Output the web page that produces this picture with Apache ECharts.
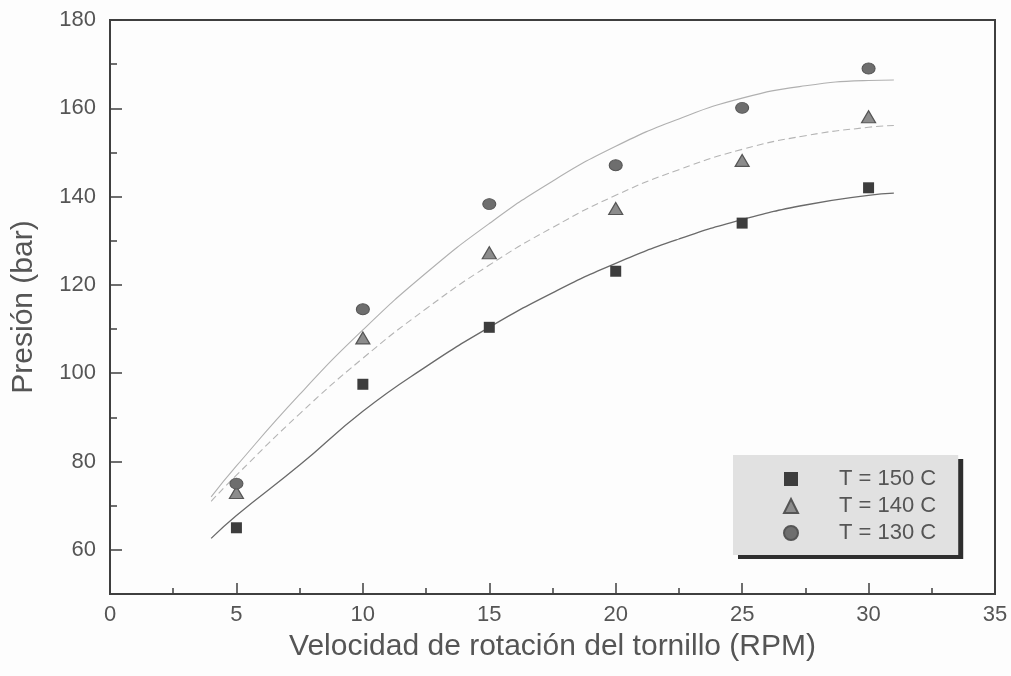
<!DOCTYPE html>
<html>
<head>
<meta charset="utf-8">
<script src="https://cdn.jsdelivr.net/npm/echarts@6/dist/echarts.min.js"></script>
<style>
html,body{margin:0;padding:0;background:#fdfdfd;}
#chart{width:1011px;height:676px;}
</style>
</head>
<body>
<div id="chart"></div>
<script>
// ---- data ----
const rpm = [5, 10, 15, 20, 25, 30];
const p150 = [65, 97.5, 110.4, 123.1, 134.0, 142.0];
const p140 = [73, 108, 127.3, 137.3, 148.2, 158.1];
const p130 = [75, 114.5, 138.3, 147.1, 160.1, 169.0];

const fitX = [4, 5, 7.5, 10, 12.5, 15, 17.5, 20, 22.5, 25, 27.5, 30, 31];
const fit150 = [62.6, 67.8, 79.2, 91.4, 101.5, 110.4, 118.2, 124.9, 130.4, 134.8, 138.1, 140.3, 140.8];
const fit140 = [71.0, 76.9, 90.8, 103.4, 114.6, 124.5, 133.0, 140.3, 146.1, 150.7, 153.8, 155.7, 156.1];
const fit130 = [72.0, 79.0, 95.2, 109.8, 122.7, 133.9, 143.5, 151.4, 157.6, 162.3, 165.1, 166.3, 166.4];

const seriesNames = ['T = 150 C', 'T = 140 C', 'T = 130 C'];
const yMajorTicks = [60, 80, 100, 120, 140, 160, 180];
const yMinorTicks = [70, 90, 110, 130, 150, 170];
const xTitle = 'Velocidad de rotación del tornillo (RPM)';
const yTitle = 'Presión (bar)';

// ---- build ----
const pairs = (xs, ys) => xs.map((x, i) => [x, ys[i]]);
const FONT = 'Liberation Sans, Arial, sans-serif';
const AX = '#3f3f3f';
const TXT = '#555';

const chart = echarts.init(document.getElementById('chart'), null, {renderer: 'canvas'});
chart.setOption({
  backgroundColor: '#fdfdfd',
  animation: false,
  grid: {
    left: 110, right: 16, top: 20, bottom: 82,
    containLabel: false,
    show: true, borderColor: AX, borderWidth: 2, backgroundColor: 'transparent'
  },
  legend: {
    orient: 'vertical',
    left: 733, top: 455,
    data: seriesNames,
    itemWidth: 14, itemHeight: 14, itemGap: 5,
    padding: [13, 22, 11, 50],
    backgroundColor: '#e1e1e1',
    shadowColor: '#2e2e2e', shadowBlur: 0, shadowOffsetX: 5, shadowOffsetY: 4,
    textStyle: {fontFamily: FONT, fontSize: 22, color: TXT, padding: [0, 0, 0, 36]},
    selectedMode: false
  },
  xAxis: {
    type: 'value', min: 0, max: 35, interval: 5,
    name: xTitle, nameLocation: 'middle', nameGap: 38,
    nameTextStyle: {fontFamily: FONT, fontSize: 30, color: TXT},
    axisLine: {lineStyle: {color: AX, width: 2}},
    axisTick: {inside: true, length: 11, lineStyle: {color: AX, width: 1.5}},
    minorTick: {show: true, splitNumber: 2, length: 6, lineStyle: {color: AX, width: 1.5}},
    axisLabel: {fontFamily: FONT, fontSize: 22, color: TXT, margin: 10},
    splitLine: {show: false}
  },
  yAxis: [{
    type: 'value', min: 50, max: 180, position: 'left',
    name: yTitle, nameLocation: 'middle', nameGap: 71,
    nameTextStyle: {fontFamily: FONT, fontSize: 30, color: TXT},
    axisLine: {show: true, lineStyle: {color: AX, width: 2}},
    axisTick: {show: true, inside: true, length: 12, customValues: yMajorTicks, lineStyle: {color: AX, width: 1.5}},
    axisLabel: {fontFamily: FONT, fontSize: 22, color: TXT, margin: 14, customValues: yMajorTicks},
    splitLine: {show: false}
  }, {
    type: 'value', min: 50, max: 180, position: 'left', offset: 0,
    axisLine: {show: false},
    axisTick: {show: true, inside: true, length: 7, customValues: yMinorTicks, lineStyle: {color: AX, width: 1.5}},
    axisLabel: {show: false},
    splitLine: {show: false}
  }],
  series: [
    {name: 'fit150', type: 'line', smooth: true, symbol: 'none', data: pairs(fitX, fit150),
     lineStyle: {color: '#6a6a6a', width: 1.3}, z: 1, silent: true},
    {name: 'fit140', type: 'line', smooth: true, symbol: 'none', data: pairs(fitX, fit140),
     lineStyle: {color: '#b4b4b4', width: 1.1, type: [7, 4]}, z: 1, silent: true},
    {name: 'fit130', type: 'line', smooth: true, symbol: 'none', data: pairs(fitX, fit130),
     lineStyle: {color: '#b0b0b0', width: 1.1}, z: 1, silent: true},
    {name: seriesNames[0], type: 'scatter', symbol: 'rect', symbolSize: 11,
     data: pairs(rpm, p150), itemStyle: {color: '#3d3d3d', opacity: 1}, z: 3},
    {name: seriesNames[1], type: 'scatter', symbol: 'triangle', symbolSize: [14, 12],
     data: pairs(rpm, p140), itemStyle: {color: '#8c8c8c', borderColor: '#555', borderWidth: 1.2, opacity: 1}, z: 3},
    {name: seriesNames[2], type: 'scatter', symbol: 'circle', symbolSize: [13, 11],
     data: pairs(rpm, p130), itemStyle: {color: '#6e6e6e', borderColor: '#555', borderWidth: 1, opacity: 1}, z: 3}
  ]
});
</script>
</body>
</html>
